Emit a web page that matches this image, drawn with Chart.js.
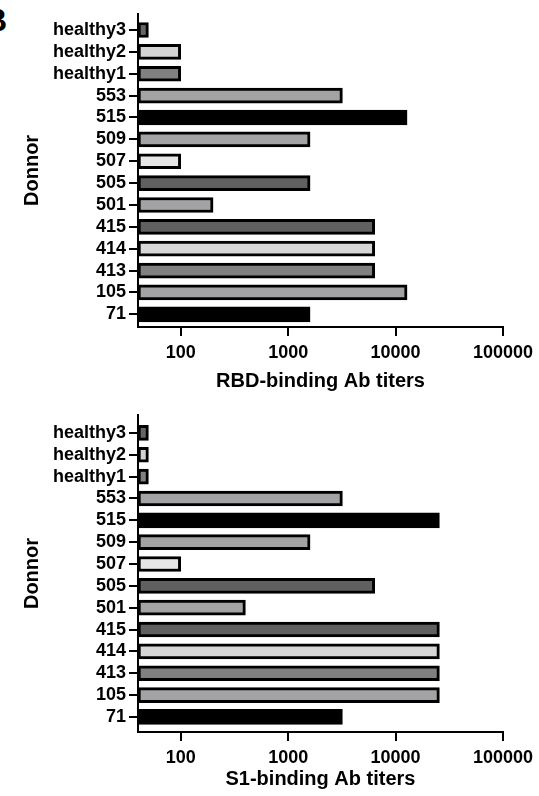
<!DOCTYPE html>
<html>
<head>
<meta charset="utf-8">
<script src="https://cdn.jsdelivr.net/npm/chart.js@4.4.1/dist/chart.umd.min.js"></script>
<style>
  html, body { margin: 0; padding: 0; background: #fff; }
  body { width: 539px; height: 796px; position: relative; overflow: hidden; }
  .wrap { position: absolute; left: 0; width: 539px; height: 398px; }
  #w1 { top: 0; }
  #w2 { top: 398px; }
  #panel { position: absolute; left: -16px; top: 2px; font: bold 32px "Liberation Sans", Arial, sans-serif; color: #000; }
</style>
</head>
<body>
<div id="panel">B</div>
<div class="wrap" id="w1"><canvas id="c1" width="539" height="398"></canvas></div>
<div class="wrap" id="w2"><canvas id="c2" width="539" height="398"></canvas></div>
<script>
// ---- data ----
const donors = ["healthy3","healthy2","healthy1","553","515","509","507","505","501","415","414","413","105","71"];
const rbdTiters = [50, 100, 100, 3200, 12800, 1600, 100, 1600, 200, 6400, 6400, 6400, 12800, 1600];
const s1Titers  = [50, 50, 50, 3200, 25600, 1600, 100, 6400, 400, 25600, 25600, 25600, 25600, 3200];
const xTickValues = [100, 1000, 10000, 100000];
const xMin = 40, xMax = 100000;

// ---- style ----
const barColors = ["#666666","#d4d4d4","#808080","#a3a3a6","#000000","#a3a3a6","#e6e6e6","#606060","#a3a3a6","#606060","#d6d6d6","#808080","#a3a3a6","#000000"];
const FONT = '"Liberation Sans", Arial, Helvetica, sans-serif';

function makeChart(id, values, xTitle, g) {
  return new Chart(document.getElementById(id), {
    type: 'bar',
    data: {
      datasets: [{
        data: values.map((v, i) => ({ x: v, y: i })),
        backgroundColor: barColors,
        borderColor: '#000',
        borderWidth: 3,
        borderSkipped: false,
        barThickness: 15
      }]
    },
    options: {
      indexAxis: 'y',
      responsive: false,
      animation: false,
      events: [],
      layout: { padding: { top: g.top, right: 35, bottom: 0, left: 0 } },
      plugins: { legend: { display: false }, tooltip: { enabled: false } },
      scales: {
        x: {
          type: 'logarithmic',
          min: xMin, max: xMax,
          afterBuildTicks: (s) => { s.ticks = xTickValues.map(v => ({ value: v })); },
          afterFit: (s) => { s.height = g.xh; },
          border: { display: true, color: '#000', width: 2 },
          grid: { display: true, drawOnChartArea: false, drawTicks: true, tickLength: 9, color: '#000', lineWidth: 2 },
          ticks: {
            color: '#000', padding: g.tickPad, maxRotation: 0, autoSkip: false,
            font: { family: FONT, size: 18, weight: 'bold' },
            callback: (v) => String(v)
          },
          title: {
            display: true, text: xTitle, color: '#000',
            font: { family: FONT, size: 20, weight: 'bold' },
            padding: { top: 0, bottom: g.titlePad }
          }
        },
        y: {
          type: 'linear',
          reverse: true,
          offset: false,
          min: g.yMin, max: g.yMax,
          afterBuildTicks: (s) => { s.ticks = donors.map((d, i) => ({ value: i })); },
          afterFit: (s) => { s.width = 138; },
          border: { display: true, color: '#000', width: 2 },
          grid: { display: true, offset: false, drawOnChartArea: false, drawTicks: true, tickLength: 9, color: '#000', lineWidth: 2 },
          ticks: {
            color: '#000', padding: 3, autoSkip: false,
            font: { family: FONT, size: 18, weight: 'bold' },
            callback: (v) => donors[v]
          },
          title: {
            display: true, text: 'Donnor', color: '#000',
            font: { family: FONT, size: 20, weight: 'bold' },
            padding: { top: 20, bottom: 0 }
          }
        }
      }
    }
  });
}

makeChart('c1', rbdTiters, 'RBD-binding Ab titers', { top: 12, xh: 71, tickPad: 6, titlePad: 5, yMin: -0.74, yMax: 13.58 });
makeChart('c2', s1Titers, 'S1-binding Ab titers', { top: 17, xh: 64, tickPad: 6, titlePad: 5, yMin: -0.82, yMax: 13.69 });
</script>
</body>
</html>
